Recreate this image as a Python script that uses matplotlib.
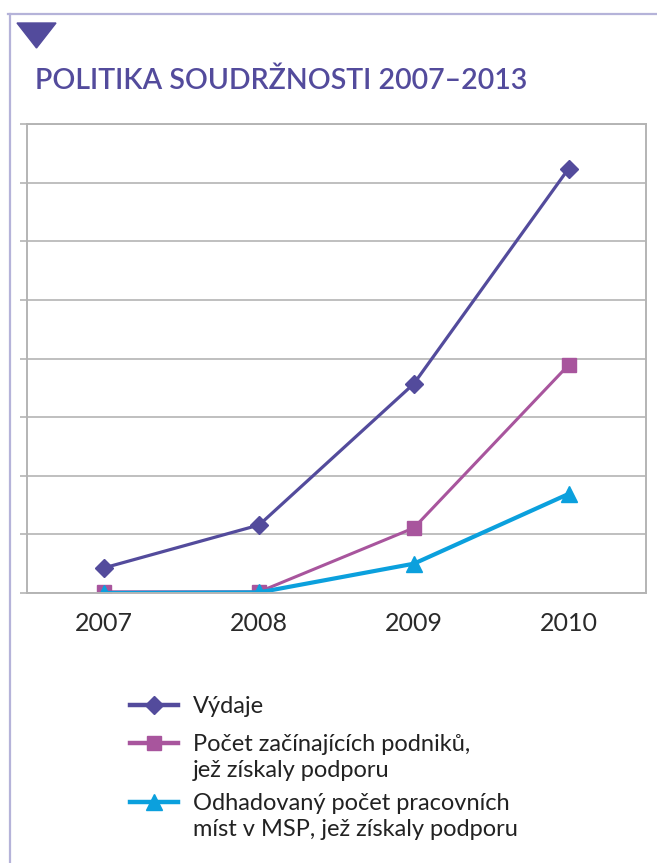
import matplotlib.pyplot as plt
from matplotlib.lines import Line2D
from matplotlib.patches import Polygon

# data (grid units, y axis has no labels)
years = ["2007", "2008", "2009", "2010"]
vydaje = [0.43, 1.16, 3.57, 7.24]
podniky = [0.02, 0.02, 1.11, 3.89]
mista = [0.0, 0.01, 0.50, 1.69]

labels = [
    "Výdaje",
    "Počet začínajících podniků,\njež získaly podporu",
    "Odhadovaný počet pracovních\nmíst v MSP, jež získaly podporu",
]

c_vyd = "#534b9c"
c_pod = "#a8559d"
c_mis = "#0ba0dd"
c_grid = "#b4b4b4"
c_frame = "#b5b3d9"

plt.rcParams['font.family'] = ['Lato', 'DejaVu Sans']

fig = plt.figure(figsize=(6.57, 8.63), dpi=100)
W, H = 657, 863

# outer frame (top + left) and the triangle
fig.add_artist(Line2D([8 / W, 1], [1 - 14 / H, 1 - 14 / H], color=c_frame, lw=1.6))
fig.add_artist(Line2D([10 / W, 10 / W], [0, 1 - 14 / H], color=c_frame, lw=1.6))
fig.add_artist(Polygon([[17 / W, 1 - 23 / H], [56 / W, 1 - 23 / H], [36.5 / W, 1 - 48 / H]],
                       closed=True, color=c_vyd, transform=fig.transFigure))

fig.text(35 / W, 1 - 89 / H, "POLITIKA SOUDRŽNOSTI 2007–2013", color=c_vyd,
         fontsize=20.5, fontweight='semibold', ha='left', va='baseline')

ax = fig.add_axes([27 / W, 1 - 593 / H, 619 / W, 469 / H])
x = range(len(years))
styles = [
    dict(color=c_vyd, lw=2.3, marker='D', ms=9.5),
    dict(color=c_pod, lw=2.2, marker='s', ms=10),
    dict(color=c_mis, lw=3.0, marker='^', ms=11),
]
for vals, st in zip([vydaje, podniky, mista], styles):
    ax.plot(x, vals, **st)

ax.set_xlim(-0.5, 3.5)
ax.set_ylim(0, 8)
ax.set_yticks(range(9))
ax.set_yticklabels([])
ax.set_xticks(list(x))
ax.set_xticklabels(years)
ax.tick_params(axis='x', length=0, pad=14, labelsize=18, labelcolor='#2a2a2a')
ax.tick_params(axis='y', length=5, width=1.2, color=c_grid)
ax.grid(axis='y', color=c_grid, lw=1.2)
ax.set_axisbelow(True)
for s in ax.spines.values():
    s.set_color(c_grid)
    s.set_linewidth(1.4)

# legend, handles aligned with the first line of each label
row_y = [705, 743, 802]
for lab, st, yy in zip(labels, styles, row_y):
    yf = 1 - yy / H
    fig.add_artist(Line2D([130 / W, 178 / W], [yf, yf], color=st['color'], lw=3.2))
    fig.add_artist(Line2D([154 / W], [yf], color=st['color'], marker=st['marker'],
                          ms=st['ms'], lw=0))
    fig.text(193 / W, yf + 9 / H, lab, fontsize=17, color='#222222', ha='left', va='top',
             linespacing=1.3)

fig.savefig("out.png", dpi=100)
